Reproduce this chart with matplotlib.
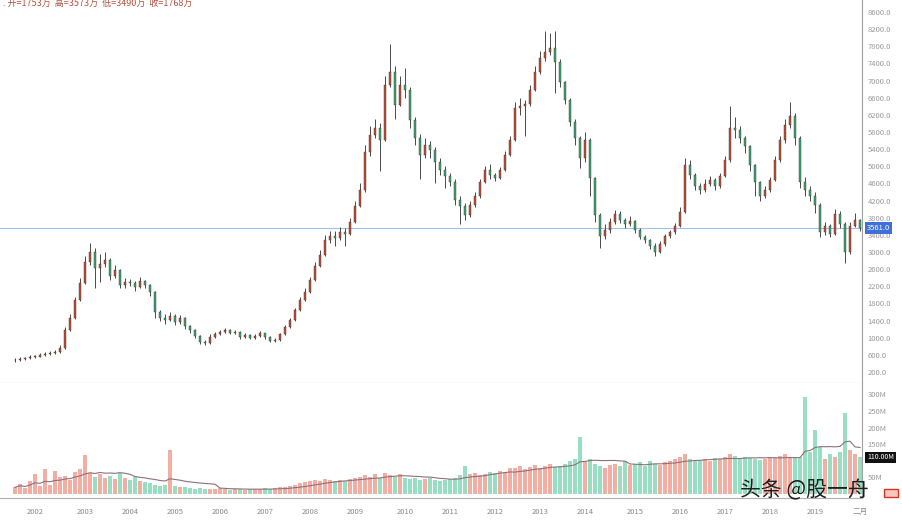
import numpy as np
import matplotlib
matplotlib.use('Agg')
import matplotlib.pyplot as plt
from matplotlib.patches import Rectangle

plt.rcParams['font.family'] = ['Noto Sans CJK SC', 'DejaVu Sans']

# price data (one candle per step)
closes = [480, 505, 528, 551, 551, 598, 621, 645, 668, 761,
          1181, 1461, 1881, 2278, 2768, 3001, 2628, 2721, 2814, 2441,
          2581, 2231, 2301, 2278, 2184, 2324, 2231, 2068, 1601, 1461,
          1414, 1508, 1368, 1461, 1274, 1181, 1041, 901, 878, 1018,
          1088, 1134, 1181, 1111, 1134, 1018, 1064, 994, 1041, 1111,
          1018, 924, 948, 1088, 1251, 1414, 1648, 1881, 2068, 2348,
          2674, 2931, 3281, 3374, 3328, 3467, 3421, 3701, 4074, 4447,
          5334, 5730, 5894, 5614, 6897, 7200, 6430, 6897, 6780, 6080,
          5661, 5264, 5497, 5381, 5101, 4914, 4774, 4634, 4214, 4074,
          3864, 4097, 4307, 4634, 4914, 4797, 4727, 4914, 5264, 5614,
          6360, 6407, 6454, 6780, 7200, 7527, 7667, 7760, 7433, 6967,
          6547, 6033, 5661, 5194, 5614, 4727, 3864, 3374, 3514, 3701,
          3894, 3747, 3654, 3724, 3514, 3351, 3281, 3141, 3001, 3188,
          3374, 3467, 3607, 3934, 5031, 4797, 4537, 4447, 4587, 4674,
          4537, 4774, 5147, 5894, 5847, 5661, 5474, 5031, 4634, 4307,
          4447, 4674, 5147, 5614, 5964, 6174, 5661, 4634, 4447, 4307,
          4097, 3467, 3607, 3421, 3894, 3654, 3001, 3607, 3747, 3561]
highs = [520, 540, 560, 590, 600, 640, 660, 700, 720, 820,
         1250, 1550, 1950, 2400, 2900, 3200, 3100, 2950, 3000, 2850,
         2700, 2600, 2400, 2380, 2320, 2420, 2350, 2260, 2100, 1650,
         1550, 1600, 1560, 1540, 1480, 1300, 1200, 1060, 950, 1080,
         1140, 1180, 1230, 1200, 1180, 1150, 1110, 1080, 1090, 1150,
         1120, 1040, 990, 1120, 1300, 1470, 1700, 1950, 2150, 2420,
         2760, 3050, 3400, 3500, 3480, 3580, 3560, 3800, 4200, 4600,
         5500, 5950, 6100, 6000, 7100, 7850, 7350, 7100, 7300, 6850,
         6150, 5750, 5650, 5600, 5450, 5200, 5000, 4850, 4700, 4300,
         4150, 4200, 4400, 4700, 5000, 5050, 4850, 4980, 5350, 5700,
         6500, 6600, 6550, 6900, 7350, 7700, 8150, 8100, 8150, 7500,
         7000, 6600, 6100, 5700, 5800, 5650, 4750, 3900, 3650, 3800,
         3990, 3950, 3800, 3850, 3750, 3550, 3400, 3300, 3200, 3250,
         3430, 3520, 3680, 4050, 5200, 5150, 4850, 4600, 4700, 4780,
         4720, 4850, 5250, 6400, 6150, 5950, 5700, 5500, 5050, 4650,
         4550, 4750, 5250, 5700, 6100, 6500, 6250, 5700, 4750, 4550,
         4400, 4150, 3700, 3650, 4000, 3950, 3700, 3700, 3900, 3780]
lows = [440, 460, 490, 510, 520, 540, 580, 600, 620, 650,
        740, 1150, 1430, 1850, 2250, 2700, 2150, 2300, 2650, 2350,
        2400, 2150, 2150, 2200, 2100, 2150, 2150, 1980, 1450, 1380,
        1320, 1380, 1300, 1330, 1200, 1120, 1000, 860, 840, 860,
        990, 1060, 1110, 1080, 1080, 980, 990, 960, 970, 1020,
        980, 890, 900, 930, 1070, 1230, 1400, 1620, 1850, 2040,
        2320, 2650, 2900, 3200, 3150, 3280, 3150, 3400, 3680, 4050,
        4400, 5250, 5650, 4900, 5600, 6850, 6100, 6400, 6600, 5900,
        5500, 4700, 5200, 5200, 4600, 4800, 4500, 4550, 4100, 3650,
        3750, 3820, 4050, 4250, 4600, 4700, 4650, 4700, 4880, 5230,
        5600, 6200, 5700, 6400, 6750, 7150, 7450, 7600, 6700, 6850,
        6450, 5950, 5500, 4950, 5100, 4300, 3700, 3100, 3300, 3450,
        3650, 3680, 3550, 3600, 3450, 3300, 3200, 3080, 2900, 2980,
        3150, 3330, 3430, 3580, 3900, 4700, 4450, 4350, 4400, 4550,
        4450, 4500, 4750, 5100, 5650, 5550, 5300, 4900, 4300, 4200,
        4250, 4400, 4650, 5100, 5550, 5900, 5500, 4500, 4300, 4200,
        3900, 3350, 3400, 3350, 3400, 3550, 2750, 2950, 3580, 3500]
volumes = [20, 30, 18, 40, 60, 25, 75, 28, 70, 50,
           55, 42, 65, 75, 118, 62, 52, 60, 48, 55,
           45, 62, 48, 42, 52, 38, 35, 32, 28, 25,
           28, 132, 25, 21, 20, 18, 16, 18, 14, 16,
           14, 17, 14, 13, 16, 14, 13, 14, 16, 14,
           17, 16, 18, 20, 21, 25, 28, 32, 35, 38,
           42, 38, 45, 42, 38, 42, 40, 45, 49, 52,
           56, 52, 60, 49, 63, 56, 52, 60, 49, 45,
           49, 42, 45, 49, 42, 38, 42, 45, 49, 56,
           84, 60, 63, 56, 60, 66, 63, 70, 66, 77,
           77, 84, 74, 80, 88, 77, 84, 91, 80, 84,
           91, 98, 105, 172, 98, 105, 91, 84, 77, 88,
           91, 84, 98, 88, 91, 95, 84, 98, 91, 88,
           95, 98, 105, 112, 119, 105, 98, 102, 105, 98,
           108, 105, 112, 119, 115, 105, 112, 108, 105, 102,
           105, 112, 108, 115, 119, 112, 108, 112, 292, 126,
           193, 140, 105, 119, 112, 126, 244, 133, 119, 110]

price_ticks = list(range(200, 8601, 400))
vol_ticks = [50, 150, 200, 250, 300]  # 100M sits under the volume tag
date_idx = [4, 14, 23, 32, 41, 50, 59, 68, 78, 87, 96, 105, 114, 124, 133, 142, 151, 160, 169]
date_labels = ['2002', '2003', '2004', '2005', '2006', '2007', '2008', '2009', '2010',
               '2011', '2012', '2013', '2014', '2015', '2016', '2017', '2018', '2019', '二月']
header = '. 开=1753万  高=3573万  低=3490万  收=1768万'

UP = '#c44a3a'
DOWN = '#3aa378'

c = np.array(closes, dtype=float)
o = np.r_[c[0] - 10, c[:-1]]
h = np.array(highs, dtype=float)
l = np.array(lows, dtype=float)
v = np.array(volumes, dtype=float)
x = np.arange(len(c))
up = c >= o

fig = plt.figure(figsize=(9.02, 5.2), dpi=100)
ax = fig.add_axes([0, 0.2635, 0.9557, 0.7365])
axv = fig.add_axes([0, 0.0423, 0.9557, 0.2212], sharex=ax)

# candles
ax.vlines(x, l, h, color='#4a4a4a', lw=0.7, zorder=2)
body = np.where(np.abs(c - o) < 15, 15, c - o)
ax.bar(x, body, bottom=o, width=0.55, color=np.where(up, UP, DOWN),
       edgecolor='#3a3a2a', linewidth=0.3, zorder=3)
ax.axhline(c[-1], color='#9cc3e6', lw=0.8, zorder=1)

ax.set_xlim(-3, 169.4)
ax.set_ylim(-57, 8880)
ax.yaxis.tick_right()
ax.set_yticks(price_ticks)
ax.set_yticklabels([f'{t:.1f}' for t in price_ticks])
ax.tick_params(axis='y', labelsize=5.5, labelcolor='#9a9a9a', length=0, pad=4)
ax.tick_params(axis='x', bottom=False, labelbottom=False)
for s in ['top', 'left']:
    ax.spines[s].set_visible(False)
ax.spines['right'].set_color('#a0a0a0')
ax.spines['bottom'].set_color('#b0b0b0')
ax.spines['right'].set_linewidth(0.8)

ax.text(1.006, c[-1], f'{c[-1]:.1f}', transform=ax.get_yaxis_transform(),
        fontsize=5.5, color='white', va='center', ha='left', zorder=5,
        bbox=dict(boxstyle='square,pad=0.25', fc='#3f6fd8', ec='none'))

# volume
axv.bar(x, v, width=0.9, color=np.where(up, '#f19a8c', '#7dd6b4'), alpha=0.8, zorder=2)
vma = np.array([v[max(0, i - 9):i + 1].mean() for i in range(len(v))])
axv.plot(x, vma, color='#8e6f7a', lw=0.8, zorder=3)
axv.set_ylim(-12, 334)
axv.yaxis.tick_right()
axv.set_yticks(vol_ticks)
axv.set_yticklabels([f'{t}M' for t in vol_ticks])
axv.tick_params(axis='y', labelsize=5.5, labelcolor='#9a9a9a', length=0, pad=4)
axv.set_xticks(date_idx)
axv.set_xticklabels(date_labels)
axv.tick_params(axis='x', labelsize=5.5, labelcolor='#8a8a8a', length=0, pad=7)
for s in ['top', 'left']:
    axv.spines[s].set_visible(False)
axv.spines['right'].set_color('#a0a0a0')
axv.spines['bottom'].set_color('#b0b0b0')
axv.text(1.006, v[-1], f'{v[-1]:.2f}M', transform=axv.get_yaxis_transform(),
         fontsize=5, color='white', va='center', ha='left',
         bbox=dict(boxstyle='square,pad=0.25', fc='#111111', ec='none'))

fig.text(0.003, 1 - 3 / 520, header, color='#b0503c', fontsize=6.5, va='center', ha='left')
fig.text(740 / 902, 1 - 490 / 520, '头条 @股一舟', color='#1e1e1e', fontsize=15,
         va='center', ha='left')
fig.patches.append(Rectangle((884 / 902, 1 - 497 / 520), 14 / 902, 8 / 520,
                             transform=fig.transFigure, fc='#f8c8c0', ec='#e03020', lw=1))

fig.savefig('out.png', dpi=100)
